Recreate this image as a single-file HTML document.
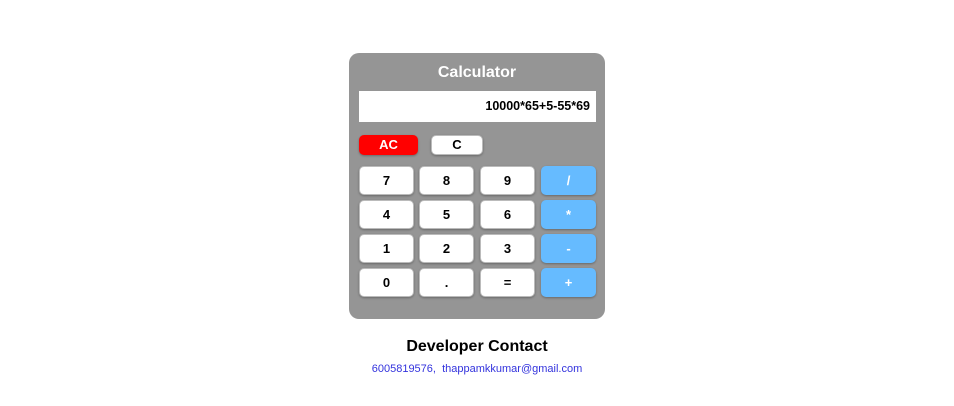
<!DOCTYPE html>
<html><head><style>
body{margin:0;width:954px;height:406px;background:#fff;font-family:"Liberation Sans",sans-serif;position:relative;overflow:hidden}
.card{position:absolute;left:349px;top:53px;width:256px;height:266px;background:#959595;border-radius:10px}
.t{position:absolute;left:349px;top:64px;width:256px;text-align:center;color:#fff;font-weight:bold;font-size:16px}
.disp{position:absolute;left:359px;top:91px;width:231px;height:31px;background:#fff;text-align:right;padding-right:6px;line-height:31px;font-weight:bold;font-size:12.5px}
.b{position:absolute;width:53px;height:27px;background:#fff;border:1px solid #bbb;border-radius:5px;text-align:center;line-height:27px;font-weight:bold;font-size:13px;box-shadow:0 1px 2px rgba(0,0,0,.3)}
.o{background:#66bbff;color:#fff;border-color:#66bbff}
.s{height:18px;line-height:18px;border-radius:5px;font-size:13px}
.h{position:absolute;left:349px;top:338px;width:256px;text-align:center;font-weight:bold;font-size:16px}
.l{position:absolute;left:349px;top:363px;width:256px;text-align:center;font-size:11px;color:#3333dd}
</style></head><body>
<div class="card"></div>
<div class="t">Calculator</div>
<div class="disp">10000*65+5-55*69</div>
<div class="b s" style="left:359px;top:135px;width:57px;background:#f00;color:#fff;border-color:#f00">AC</div>
<div class="b s" style="left:431px;top:135px;width:50px">C</div>
<div class="b" style="left:359px;top:166px">7</div><div class="b" style="left:419px;top:166px">8</div><div class="b" style="left:480px;top:166px">9</div><div class="b o" style="left:541px;top:166px">/</div>
<div class="b" style="left:359px;top:200px">4</div><div class="b" style="left:419px;top:200px">5</div><div class="b" style="left:480px;top:200px">6</div><div class="b o" style="left:541px;top:200px">*</div>
<div class="b" style="left:359px;top:234px">1</div><div class="b" style="left:419px;top:234px">2</div><div class="b" style="left:480px;top:234px">3</div><div class="b o" style="left:541px;top:234px">-</div>
<div class="b" style="left:359px;top:268px">0</div><div class="b" style="left:419px;top:268px">.</div><div class="b" style="left:480px;top:268px">=</div><div class="b o" style="left:541px;top:268px">+</div>
<div class="h">Developer Contact</div>
<div class="l">6005819576,&nbsp; thappamkkumar@gmail.com</div>
</body></html>
